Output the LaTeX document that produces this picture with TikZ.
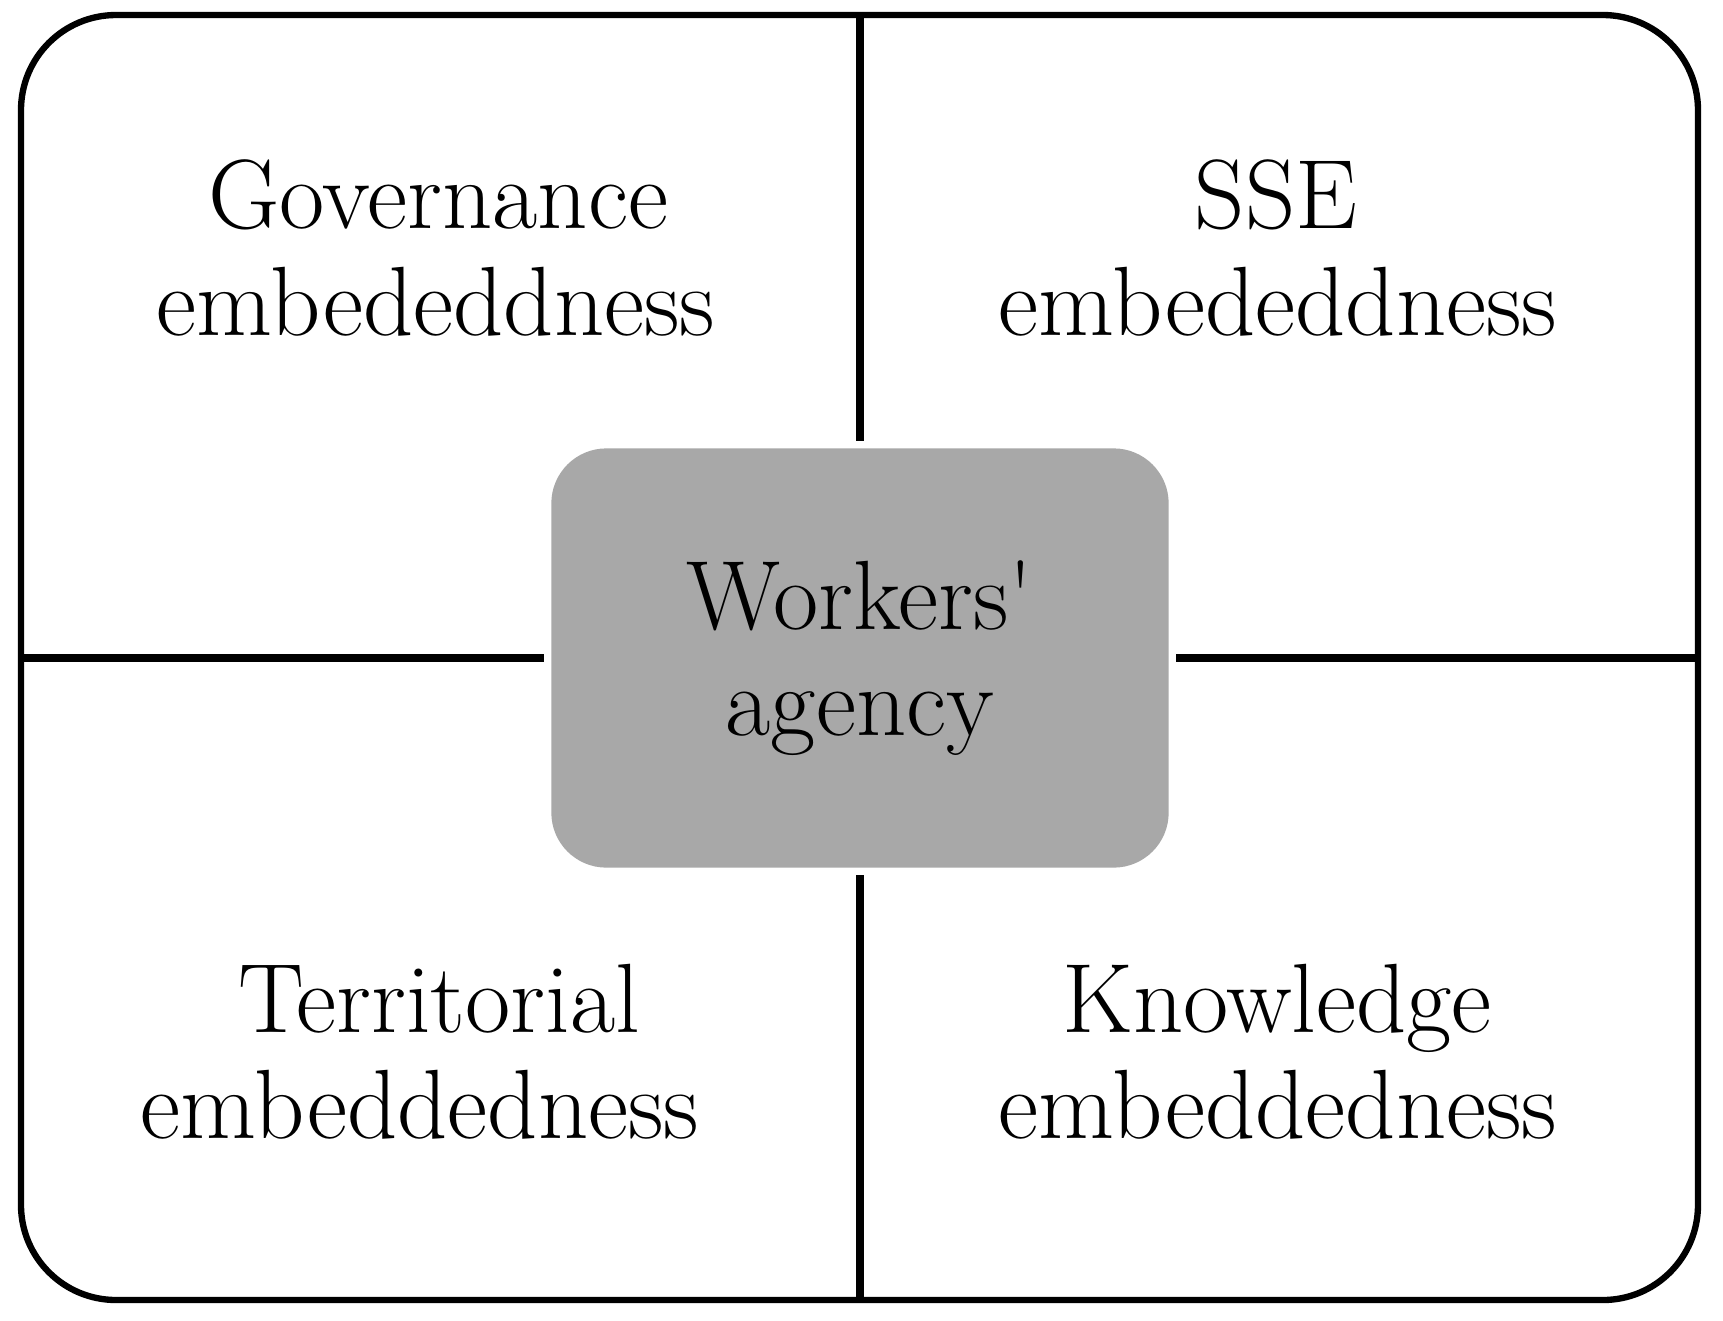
\documentclass[tikz,border=0pt]{standalone}
\usepackage{tikz}
\definecolor{agencygray}{RGB}{168,168,168}
\tikzset{frame/.style={draw=black, line width=1.8pt, rounded corners=0.95cm},
divider/.style={draw=black, line width=2pt},
%words of the four quadrants, placed by their baseline
cellword/.style={anchor=base, inner sep=0pt, font=\fontsize{28pt}{30pt}\selectfont},
agencybox/.style={fill=agencygray, rounded corners=0.55cm, minimum width=6.17cm, minimum height=4.19cm, inner sep=0pt, outer sep=0.075cm, align=center, font=\fontsize{28pt}{30pt}\selectfont}}

\begin{document}
\begin{tikzpicture}[x=0.01cm,y=-0.01cm]
\useasboundingbox (0,0) rectangle (1723,1320);
%\draw [help lines] (0,0) grid (1723,1320);
% outer frame
\draw[frame] (21,15) rectangle (1698,1300);
\coordinate (ftop) at (860,15);
\coordinate (fbottom) at (860,1300);
\coordinate (fleft) at (21,658);
\coordinate (fright) at (1698,658);

% centre
\node[agencybox] (agency) at (860,658) {Workers\textquotesingle\\agency};

% dividers
\draw[divider] (agency.north) -- (ftop);
\draw[divider] (agency.south) -- (fbottom);
\draw[divider] (agency.west) -- (fleft);
\draw[divider] (agency.east) -- (fright);

% quadrants
\node[cellword] (gov) at (438,228) {Governance};
\node[cellword] (govemb) at (436,335) {embededdness};
\node[cellword] (sse) at (1276,228) {SSE};
\node[cellword] (sseemb) at (1278,335) {embededdness};
\node[cellword] (terr) at (439,1032) {Territorial};
\node[cellword] (terremb) at (420,1138) {embeddedness};
\node[cellword] (know) at (1277,1032) {Knowledge};
\node[cellword] (knowemb) at (1278,1138) {embeddedness};

\end{tikzpicture}
\end{document}
